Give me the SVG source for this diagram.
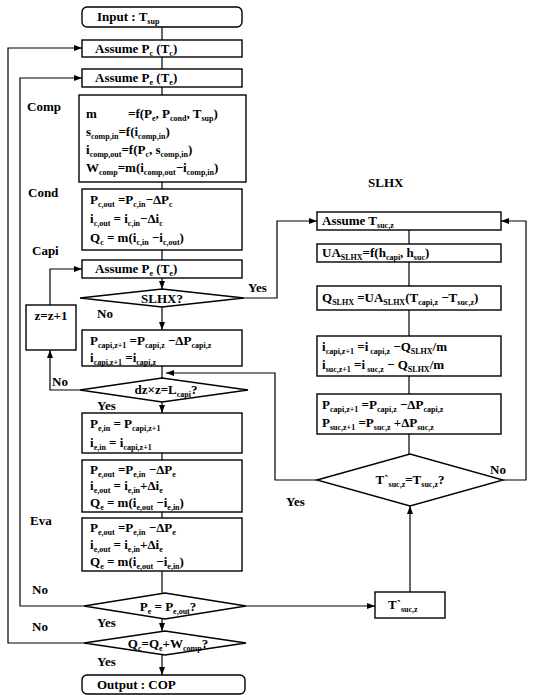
<svg xmlns="http://www.w3.org/2000/svg" width="534" height="695" viewBox="0 0 534 695">
<style>
.bx{fill:#fff;stroke:#000;stroke-width:1.4}
.ln{fill:none;stroke:#000;stroke-width:1.2}
.t{font-family:"Liberation Serif","Times New Roman",serif;font-weight:bold;font-size:13px;fill:#000}
.lb{font-family:"Liberation Serif","Times New Roman",serif;font-weight:bold;font-size:13px;fill:#000}
.s{font-size:8px}
</style>
<defs>
<marker id="ar" markerWidth="8" markerHeight="6" refX="8" refY="3" orient="auto" markerUnits="userSpaceOnUse">
<path d="M0,0 L8,3 L0,6 z" fill="#000"/>
</marker>
</defs>
<rect width="534" height="695" fill="#fff"/>

<g id="connectors">
<path class="ln" d="M162,27 V40"/>
<path class="ln" d="M162,57 V69"/>
<path class="ln" d="M162,87 V95"/>
<path class="ln" d="M162,182 V189"/>
<path class="ln" d="M162,250 V260"/>
<path class="ln" d="M162,278 V289" marker-end="url(#ar)"/>
<path class="ln" d="M162,307 V330" marker-end="url(#ar)"/>
<path class="ln" d="M162,366 V378"/>
<path class="ln" d="M162,402 V413" marker-end="url(#ar)"/>
<path class="ln" d="M162,453 V460"/>
<path class="ln" d="M162,512 V518"/>
<path class="ln" d="M162,571 V593"/>
<path class="ln" d="M162,619 V631" marker-end="url(#ar)"/>
<path class="ln" d="M162,655 V675" marker-end="url(#ar)"/>
<path class="ln" d="M84,643 H8 V48 H82" marker-end="url(#ar)"/>
<path class="ln" d="M84,606 H20 V78 H82" marker-end="url(#ar)"/>
<path class="ln" d="M80,390 H50 V350" marker-end="url(#ar)"/>
<path class="ln" d="M50,305 V269 H82" marker-end="url(#ar)"/>
<path class="ln" d="M244,298 H277 V221 H317" marker-end="url(#ar)"/>
<path class="ln" d="M409,230 V244"/>
<path class="ln" d="M409,262 V286"/>
<path class="ln" d="M409,310 V336"/>
<path class="ln" d="M409,376 V394"/>
<path class="ln" d="M409,434 V454"/>
<path class="ln" d="M503,480 H526 V221 H501" marker-end="url(#ar)"/>
<path class="ln" d="M317,480 H275 V373 H166" marker-end="url(#ar)"/>
<path class="ln" d="M246,606 H375" marker-end="url(#ar)"/>
<path class="ln" d="M410,592 V506" marker-end="url(#ar)"/>
</g>

<g id="input">
<rect class="bx" x="82" y="7" width="160" height="20" rx="5"/>
<text class="t" x="97" y="21">Input : T<tspan class="s" dy="3">sup</tspan></text>
</g>
<g id="assumePc">
<rect class="bx" x="82" y="40" width="160" height="17"/>
<text class="t" x="95" y="53">Assume P<tspan class="s" dy="3">c</tspan><tspan dy="-3"> (T</tspan><tspan class="s" dy="3">c</tspan><tspan dy="-3">)</tspan></text>
</g>
<g id="assumePe1">
<rect class="bx" x="82" y="69" width="160" height="18"/>
<text class="t" x="95" y="82">Assume P<tspan class="s" dy="3">e</tspan><tspan dy="-3"> (T</tspan><tspan class="s" dy="3">e</tspan><tspan dy="-3">)</tspan></text>
</g>
<g id="comp">
<rect class="bx" x="79" y="95" width="167" height="87"/>
<text class="t" x="86" y="118">m</text>
<text class="t" x="128" y="118">=f(P<tspan class="s" dy="3">e</tspan><tspan dy="-3">, P</tspan><tspan class="s" dy="3">cond</tspan><tspan dy="-3">, T</tspan><tspan class="s" dy="3">sup</tspan><tspan dy="-3">)</tspan></text>
<text class="t" x="86" y="136">s<tspan class="s" dy="3">comp,in</tspan><tspan dy="-3">=f(i</tspan><tspan class="s" dy="3">comp,in</tspan><tspan dy="-3">)</tspan></text>
<text class="t" x="86" y="154">i<tspan class="s" dy="3">comp,out</tspan><tspan dy="-3">=f(P</tspan><tspan class="s" dy="3">c</tspan><tspan dy="-3">, s</tspan><tspan class="s" dy="3">comp,in</tspan><tspan dy="-3">)</tspan></text>
<text class="t" x="86" y="172">W<tspan class="s" dy="3">comp</tspan><tspan dy="-3">=m(i</tspan><tspan class="s" dy="3">comp,out</tspan><tspan dy="-3">−i</tspan><tspan class="s" dy="3">comp,in</tspan><tspan dy="-3">)</tspan></text>
</g>
<g id="cond">
<rect class="bx" x="82" y="189" width="160" height="61"/>
<text class="t" x="90" y="204">P<tspan class="s" dy="3">c,out</tspan><tspan dy="-3"> =P</tspan><tspan class="s" dy="3">c,in</tspan><tspan dy="-3">−ΔP</tspan><tspan class="s" dy="3">c</tspan></text>
<text class="t" x="90" y="223">i<tspan class="s" dy="3">c,out</tspan><tspan dy="-3">  = i</tspan><tspan class="s" dy="3">c,in</tspan><tspan dy="-3">−Δi</tspan><tspan class="s" dy="3">c</tspan></text>
<text class="t" x="90" y="242">Q<tspan class="s" dy="3">c</tspan><tspan dy="-3">    = m(i</tspan><tspan class="s" dy="3">c,in</tspan><tspan dy="-3"> −i</tspan><tspan class="s" dy="3">c,out</tspan><tspan dy="-3">)</tspan></text>
</g>
<g id="assumePe2">
<rect class="bx" x="82" y="260" width="160" height="18"/>
<text class="t" x="95" y="273">Assume P<tspan class="s" dy="3">e</tspan><tspan dy="-3"> (T</tspan><tspan class="s" dy="3">e</tspan><tspan dy="-3">)</tspan></text>
</g>
<g id="slhxQ">
<polygon class="bx" points="80,298 162,289 244,298 162,307"/>
<text class="t" x="162" y="303" text-anchor="middle" font-size="12">SLHX?</text>
</g>
<g id="zinc">
<rect class="bx" x="26" y="305" width="50" height="45"/>
<text class="t" x="51" y="320" text-anchor="middle" font-size="11">z=z+1</text>
</g>
<g id="pcapi">
<rect class="bx" x="82" y="330" width="160" height="36"/>
<text class="t" x="90" y="345">P<tspan class="s" dy="3">capi,z+1</tspan><tspan dy="-3"> =P</tspan><tspan class="s" dy="3">capi,z</tspan><tspan dy="-3"> −ΔP</tspan><tspan class="s" dy="3">capi,z</tspan></text>
<text class="t" x="90" y="362">i<tspan class="s" dy="3">capi,z+1</tspan><tspan dy="-3"> =i</tspan><tspan class="s" dy="3">capi,z</tspan></text>
</g>
<g id="dzQ">
<polygon class="bx" points="80,390 162,378 248,390 162,402"/>
<text class="t" x="166" y="394" text-anchor="middle" font-size="12">dz×z=L<tspan class="s" dy="3">capi</tspan><tspan dy="-3">?</tspan></text>
</g>
<g id="pein">
<rect class="bx" x="82" y="413" width="160" height="40"/>
<text class="t" x="90" y="428">P<tspan class="s" dy="3">e,in</tspan><tspan dy="-3"> = P</tspan><tspan class="s" dy="3">capi,z+1</tspan></text>
<text class="t" x="90" y="447">i<tspan class="s" dy="3">e,in</tspan><tspan dy="-3">  = i</tspan><tspan class="s" dy="3">capi,z+1</tspan></text>
</g>
<g id="peout1">
<rect class="bx" x="82" y="460" width="160" height="52"/>
<text class="t" x="90" y="474">P<tspan class="s" dy="2.5">e,out</tspan><tspan dy="-2.5"> =P</tspan><tspan class="s" dy="2.5">e,in</tspan><tspan dy="-2.5"> −ΔP</tspan><tspan class="s" dy="2.5">e</tspan></text>
<text class="t" x="90" y="490">i<tspan class="s" dy="2.5">e,out</tspan><tspan dy="-2.5"> = i</tspan><tspan class="s" dy="2.5">e,in</tspan><tspan dy="-2.5">+Δi</tspan><tspan class="s" dy="2.5">e</tspan></text>
<text class="t" x="90" y="507">Q<tspan class="s" dy="2.5">e</tspan><tspan dy="-2.5"> = m(i</tspan><tspan class="s" dy="2.5">e,out</tspan><tspan dy="-2.5"> −i</tspan><tspan class="s" dy="2.5">e,in</tspan><tspan dy="-2.5">)</tspan></text>
</g>
<g id="eva">
<rect class="bx" x="82" y="518" width="160" height="53"/>
<text class="t" x="90" y="532">P<tspan class="s" dy="2.5">e,out</tspan><tspan dy="-2.5"> =P</tspan><tspan class="s" dy="2.5">e,in</tspan><tspan dy="-2.5"> −ΔP</tspan><tspan class="s" dy="2.5">e</tspan></text>
<text class="t" x="90" y="549">i<tspan class="s" dy="2.5">e,out</tspan><tspan dy="-2.5"> = i</tspan><tspan class="s" dy="2.5">e,in</tspan><tspan dy="-2.5">+Δi</tspan><tspan class="s" dy="2.5">e</tspan></text>
<text class="t" x="90" y="566">Q<tspan class="s" dy="2.5">e</tspan><tspan dy="-2.5"> = m(i</tspan><tspan class="s" dy="2.5">e,out</tspan><tspan dy="-2.5"> −i</tspan><tspan class="s" dy="2.5">e,in</tspan><tspan dy="-2.5">)</tspan></text>
</g>
<g id="peQ">
<polygon class="bx" points="84,606 165,593 246,606 165,619"/>
<text class="t" x="168" y="611" text-anchor="middle">P<tspan class="s" dy="3">e</tspan><tspan dy="-3"> = P</tspan><tspan class="s" dy="3">e,out</tspan><tspan dy="-3">?</tspan></text>
</g>
<g id="qeQ">
<polygon class="bx" points="84,643 165,631 246,643 165,655"/>
<text class="t" x="168" y="648" text-anchor="middle">Q<tspan class="s" dy="3">c</tspan><tspan dy="-3">=Q</tspan><tspan class="s" dy="3">e</tspan><tspan dy="-3">+W</tspan><tspan class="s" dy="3">comp</tspan><tspan dy="-3">?</tspan></text>
</g>
<g id="output">
<rect class="bx" x="82" y="675" width="163" height="19" rx="5"/>
<text class="t" x="97" y="689">Output : COP</text>
</g>

<g id="assumeTsuc">
<rect class="bx" x="317" y="212" width="184" height="18"/>
<text class="t" x="322" y="225">Assume T<tspan class="s" dy="3">suc,z</tspan></text>
</g>
<g id="ua">
<rect class="bx" x="317" y="244" width="184" height="18"/>
<text class="t" x="322" y="257">UA<tspan class="s" dy="3">SLHX</tspan><tspan dy="-3">=f(h</tspan><tspan class="s" dy="3">capi</tspan><tspan dy="-3">, h</tspan><tspan class="s" dy="3">suc</tspan><tspan dy="-3">)</tspan></text>
</g>
<g id="qslhx">
<rect class="bx" x="317" y="286" width="184" height="24"/>
<text class="t" x="322" y="302">Q<tspan class="s" dy="3">SLHX</tspan><tspan dy="-3"> =UA</tspan><tspan class="s" dy="3">SLHX</tspan><tspan dy="-3">(T</tspan><tspan class="s" dy="3">capi,z</tspan><tspan dy="-3"> −T</tspan><tspan class="s" dy="3">suc,z</tspan><tspan dy="-3">)</tspan></text>
</g>
<g id="islhx">
<rect class="bx" x="317" y="336" width="184" height="40"/>
<text class="t" x="322" y="351">i<tspan class="s" dy="3">capi,z+1</tspan><tspan dy="-3"> =i</tspan><tspan class="s" dy="3"> capi,z</tspan><tspan dy="-3"> −Q</tspan><tspan class="s" dy="3">SLHX</tspan><tspan dy="-3">/m</tspan></text>
<text class="t" x="322" y="369">i<tspan class="s" dy="3">suc,z+1</tspan><tspan dy="-3"> =i</tspan><tspan class="s" dy="3"> suc,z</tspan><tspan dy="-3"> − Q</tspan><tspan class="s" dy="3">SLHX</tspan><tspan dy="-3">/m</tspan></text>
</g>
<g id="pslhx">
<rect class="bx" x="317" y="394" width="184" height="40"/>
<text class="t" x="322" y="409">P<tspan class="s" dy="3">capi,z+1</tspan><tspan dy="-3"> =P</tspan><tspan class="s" dy="3">capi,z</tspan><tspan dy="-3"> −ΔP</tspan><tspan class="s" dy="3">capi,z</tspan></text>
<text class="t" x="322" y="427">P<tspan class="s" dy="3">suc,z+1</tspan><tspan dy="-3"> =P</tspan><tspan class="s" dy="3">suc,z</tspan><tspan dy="-3"> +ΔP</tspan><tspan class="s" dy="3">suc,z</tspan></text>
</g>
<g id="tsucQ">
<polygon class="bx" points="317,480 410,454 503,480 410,506"/>
<text class="t" x="410" y="484" text-anchor="middle">T`<tspan class="s" dy="3">suc,z</tspan><tspan dy="-3">=T</tspan><tspan class="s" dy="3">suc,z</tspan><tspan dy="-3">?</tspan></text>
</g>
<g id="tsucBox">
<rect class="bx" x="375" y="592" width="70" height="26"/>
<text class="t" x="388" y="609">T`<tspan class="s" dy="3">suc,z</tspan></text>
</g>

<g id="labels">
<text class="lb" x="27" y="111">Comp</text>
<text class="lb" x="28" y="197">Cond</text>
<text class="lb" x="32" y="255">Capi</text>
<text class="lb" x="30" y="525">Eva</text>
<text class="lb" x="368" y="187">SLHX</text>
<text class="lb" x="248" y="292">Yes</text>
<text class="lb" x="97" y="318">No</text>
<text class="lb" x="52" y="386">No</text>
<text class="lb" x="97" y="410">Yes</text>
<text class="lb" x="490" y="474">No</text>
<text class="lb" x="286" y="506">Yes</text>
<text class="lb" x="32" y="594">No</text>
<text class="lb" x="97" y="627">Yes</text>
<text class="lb" x="32" y="631">No</text>
<text class="lb" x="97" y="666">Yes</text>
</g>
</svg>
